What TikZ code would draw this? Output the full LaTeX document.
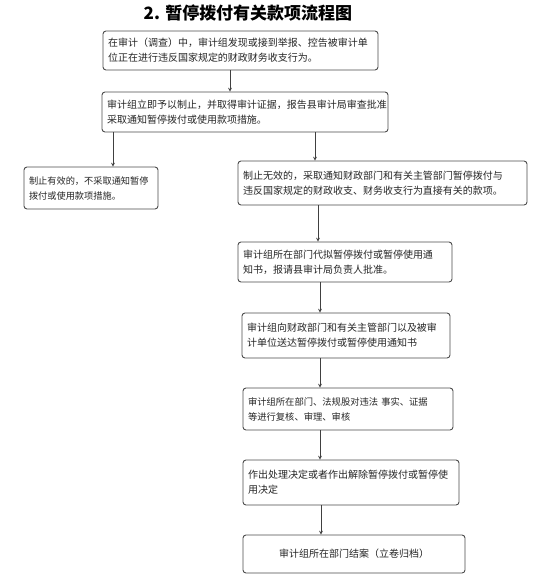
\documentclass[tikz,border=0pt]{standalone}
\usepackage{fontspec}
\newfontfamily\cjk{Noto Sans CJK SC}
\usetikzlibrary{arrows,positioning}

\begin{document}
\begin{tikzpicture}[x=1pt,y=-1pt,>=stealth,
    box/.style={draw=black!70,line width=0.9pt,rounded corners=3pt,fill=white,
      align=left,inner xsep=5pt,inner ysep=0pt,
      font=\cjk\fontsize{10}{15}\selectfont,text=black!85},
    flow/.style={->,line width=0.7pt,black!75}]
    \useasboundingbox (0,0) rectangle (554,587);
    \node[font=\cjk\bfseries\fontsize{17}{19}\selectfont] (title) at (248,13)
      {2. 暂停拨付有关款项流程图};
    % main steps
    \node[box,text width=265pt,minimum height=39pt] (b1) at (240.5,50.5)
      {在审计（调查）中，审计组发现或接到举报、控告被审计单\\位正在进行违反国家规定的财政财务收支行为。};
    \node[box,text width=276pt,minimum height=40pt] (b2) at (245,112)
      {审计组立即予以制止，并取得审计证据，报告县审计局审查批准\\采取通知暂停拨付或使用款项措施。};
    \node[box,text width=124pt,minimum height=42pt,
      font=\cjk\fontsize{9.2}{15}\selectfont] (b3) at (91,188)
      {制止有效的，不采取通知暂停\\拨付或使用款项措施。};
    \node[box,text width=279pt,minimum height=44pt] (b4) at (382.5,183)
      {制止无效的，采取通知财政部门和有关主管部门暂停拨付与\\违反国家规定的财政收支、财务收支行为直接有关的款项。};
    \node[box,text width=204pt,minimum height=40pt] (b5) at (345,262)
      {审计组所在部门代拟暂停拨付或暂停使用通\\知书，报请县审计局负责人批准。};
    \node[box,text width=198pt,minimum height=45pt] (b6) at (346,335.5)
      {审计组向财政部门和有关主管部门以及被审\\计单位送达暂停拨付或暂停使用通知书};
    \node[box,text width=200pt,minimum height=42pt,
      font=\cjk\fontsize{9.3}{15}\selectfont] (b7) at (348,409)
      {审计组所在部门、法规股对违法~事实、证据\\等进行复核、审理、审核};
    \node[box,text width=206pt,minimum height=45pt] (b8) at (351,482.5)
      {作出处理决定或者作出解除暂停拨付或暂停使\\用决定};
    \node[box,align=center,text width=212pt,minimum height=38pt] (b9) at (354,554)
      {审计组所在部门结案（立卷归档）};
    % arrow columns
    \coordinate (c12) at (230,0);
    \coordinate (c23) at (113,0);
    \coordinate (c24) at (315,0);
    \coordinate (c45) at (318,0);
    \coordinate (c5) at (320,0);
    \coordinate (c89) at (321,0);
    \draw[flow] (b1.south -| c12) -- (b2.north -| c12);
    \draw[flow] (b2.south -| c23) -- (b3.north -| c23);
    \draw[flow] (b2.south -| c24) -- (b4.north -| c24);
    \draw[flow] (b4.south -| c45) -- (b5.north -| c45);
    \draw[flow] (b5.south -| c5) -- (b6.north -| c5);
    \draw[flow] (b6.south -| c5) -- (b7.north -| c5);
    \draw[flow] (b7.south -| c5) -- (b8.north -| c5);
    \draw[flow] (b8.south -| c89) -- (b9.north -| c89);
  \end{tikzpicture}
\end{document}
